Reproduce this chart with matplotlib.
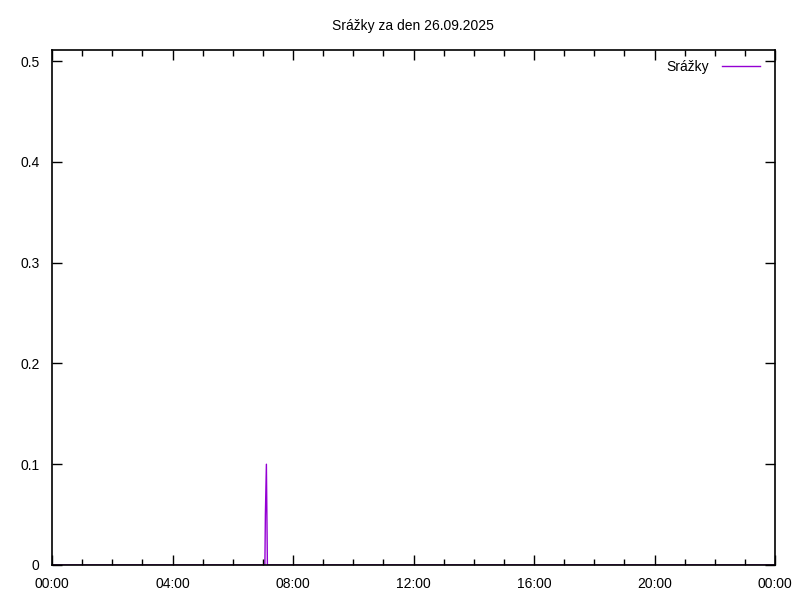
import numpy as np
import matplotlib
matplotlib.use("Agg")
import matplotlib.pyplot as plt
from matplotlib.ticker import MultipleLocator

# time in minutes from midnight, rain in mm
times = [0, 424, 425, 427, 428, 429, 1439]
rain = [0, 0, 0.05, 0.1, 0.05, 0, 0]
tick_labels = ["00:00", "04:00", "08:00", "12:00", "16:00", "20:00", "00:00"]
title = "Srážky za den 26.09.2025"
label = "Srážky"

plt.rcParams['font.family'] = ['Liberation Sans', 'DejaVu Sans']
plt.rcParams['font.size'] = 10

fig = plt.figure(figsize=(8, 6), dpi=100)
ax = fig.add_axes([52/800, 35/600, 723/800, 515/600])

ax.plot(times, rain, color='#9400d3', lw=1, zorder=1)
ax.set_xlim(0, 1440)
ax.set_ylim(0, 0.511)
ax.set_xticks(np.arange(0, 1441, 240))
ax.set_xticklabels(tick_labels)
ax.xaxis.set_minor_locator(MultipleLocator(60))
ax.set_yticks([0, 0.1, 0.2, 0.3, 0.4, 0.5])
ax.set_yticklabels(["0", "0.1", "0.2", "0.3", "0.4", "0.5"])
ax.tick_params(which='both', direction='in', top=True, right=True, color='black', width=1)
ax.tick_params(which='major', length=7)
ax.tick_params(which='minor', length=4)
ax.tick_params(axis='x', pad=9)
ax.tick_params(axis='y', pad=9)
for s in ax.spines.values():
    s.set_linewidth(1.2)
    s.set_zorder(5)

fig.text(413/800, 1 - 26/600, title, ha='center', va='center')

# legend like gnuplot: text then sample line
ax.text((709-52)/723, 1 - (67-50)/515, label, transform=ax.transAxes, ha='right', va='center')
ax.plot([(722-52)/723, (760-52)/723], [1 - (66-50)/515]*2, transform=ax.transAxes,
        color='#9400d3', lw=1)

fig.savefig("out.png", dpi=100)
